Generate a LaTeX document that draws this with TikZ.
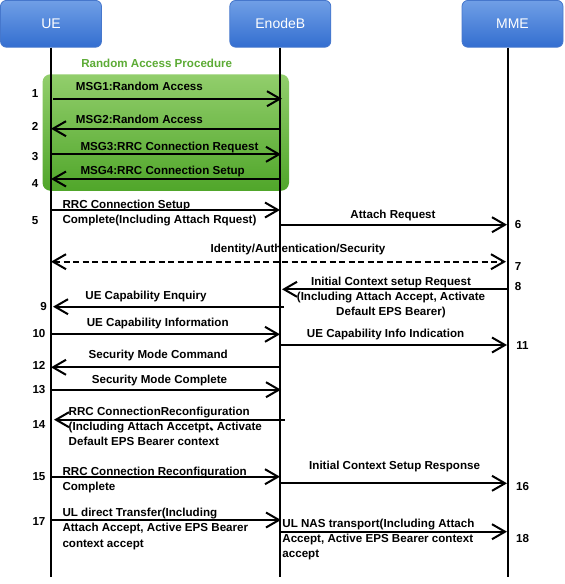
\documentclass[tikz,border=0pt]{standalone}
\usepackage{fontspec}
\setmainfont{Liberation Sans}
\newfontfamily\cjk{Noto Sans CJK SC}
\usetikzlibrary{arrows.meta}
\definecolor{hdrtop}{HTML}{709FE6}
\definecolor{hdrbot}{HTML}{336ED0}
\definecolor{hdrline}{HTML}{4677CC}
\definecolor{grtop}{HTML}{92CE6C}
\definecolor{grbot}{HTML}{50A62A}
\definecolor{grtitle}{HTML}{5CAB35}
\begin{document}
\begin{tikzpicture}[x=1pt,y=-1pt,
  hdr/.style={draw=hdrline, line width=0.8pt, rounded corners=6pt,
    top color=hdrtop, bottom color=hdrbot, minimum width=101pt,
    minimum height=46.8pt, inner sep=0pt, text=white,
    font=\fontsize{14}{16}\selectfont},
  grbox/.style={rounded corners=8pt, top color=grtop, bottom color=grbot,
    minimum width=246.5pt, minimum height=116.5pt, inner sep=0pt},
  life/.style={line width=2pt},
  msg/.style={line width=2pt, -{Straight Barb[length=13pt,width=15pt]}},
  dmsg/.style={line width=2pt, dash pattern=on 6pt off 3.5pt,
    {Straight Barb[length=13pt,width=15pt]}-{Straight Barb[length=13pt,width=15pt]}},
  lbl/.style={font=\fontsize{11.6}{15.3}\selectfont\bfseries, inner sep=0pt,
    text height=8.3pt, text depth=0pt},
  mlbl/.style={font=\fontsize{11.6}{15.3}\selectfont\bfseries, inner sep=0pt,
    align=left, anchor=north west},
  clbl/.style={font=\fontsize{11.6}{15.3}\selectfont\bfseries, inner sep=0pt,
    align=center, anchor=north},
]
\useasboundingbox (0,0) rectangle (565,584);

% green random access region
\node[grbox] (ra) at (165.75,132.5) {};
\node[lbl, text=grtitle] (ratitle) at (156.7,63.3) {Random Access Procedure};

% headers
\node[hdr] (ue)  at (51,23.8) {UE};
\node[hdr] (enb) at (280.3,23.8) {EnodeB};
\node[hdr] (mme) at (512.5,23.8) {MME};

% lifelines
\coordinate (uB) at (51,577);
\coordinate (eB) at (280,577);
\coordinate (mB) at (508,577);
\draw[life] (ue.south -| uB) -- (uB);
\draw[life] (enb.south -| eB) -- (eB);
\draw[life] (mme.south -| mB) -- (mB);

% messages
\coordinate (m1a) at (53,98.7);   \coordinate (m1b) at (282,98.7);
\coordinate (m2a) at (280,128.7); \coordinate (m2b) at (51,128.7);
\coordinate (m3a) at (52,154.3);  \coordinate (m3b) at (281,154.3);
\coordinate (m4a) at (280,179);   \coordinate (m4b) at (51,179);
\coordinate (m5a) at (52,210);    \coordinate (m5b) at (280,210);
\coordinate (m6a) at (280,224.7); \coordinate (m6b) at (507,224.7);
\coordinate (m7a) at (51,261.7);  \coordinate (m7b) at (506,261.7);
\coordinate (m8a) at (508,289.3); \coordinate (m8b) at (282,289.3);
\coordinate (m9a) at (284,306.7); \coordinate (m9b) at (53,306.7);
\coordinate (m10a) at (52,334.3); \coordinate (m10b) at (280,334.3);
\coordinate (m11a) at (280,345);  \coordinate (m11b) at (507,345);
\coordinate (m12a) at (280,367.3);\coordinate (m12b) at (51,367.3);
\coordinate (m13a) at (51,389.7); \coordinate (m13b) at (281,389.7);
\coordinate (m14a) at (285,419.7);\coordinate (m14b) at (54,419.7);
\coordinate (m15a) at (51,476.7); \coordinate (m15b) at (280,476.7);
\coordinate (m16a) at (280,483.3);\coordinate (m16b) at (507,483.3);
\coordinate (m17a) at (51,520);   \coordinate (m17b) at (281,520);
\coordinate (m18a) at (280,531.7);\coordinate (m18b) at (507,531.7);

\draw[msg] (m1a) -- (m1b);
\draw[msg] (m2a) -- (m2b);
\draw[msg] (m3a) -- (m3b);
\draw[msg] (m4a) -- (m4b);
\draw[msg] (m5a) -- (m5b);
\draw[msg] (m6a) -- (m6b);
\draw[dmsg] (m7a) -- (m7b);
\draw[msg] (m8a) -- (m8b);
\draw[msg] (m9a) -- (m9b);
\draw[msg] (m10a) -- (m10b);
\draw[msg] (m11a) -- (m11b);
\draw[msg] (m12a) -- (m12b);
\draw[msg] (m13a) -- (m13b);
\draw[msg] (m14a) -- (m14b);
\draw[msg] (m15a) -- (m15b);
\draw[msg] (m16a) -- (m16b);
\draw[msg] (m17a) -- (m17b);
\draw[msg] (m18a) -- (m18b);

% message labels
\node[lbl, anchor=west] (t1) at (75.7,86.7) {MSG1:Random Access};
\node[lbl, anchor=west] (t2) at (75.7,119) {MSG2:Random Access};
\node[lbl, anchor=west] (t3) at (80.3,146.7) {MSG3:RRC Connection Request};
\node[lbl, anchor=west] (t4) at (80.3,170.7) {MSG4:RRC Connection Setup};
\node[mlbl] (t5) at (62.3,199.7) {RRC Connection Setup\\Complete(Including Attach Rquest)};
\node[lbl] (t6) at (393,214) {Attach Request};
\node[lbl] (t7) at (298,248) {Identity/Authentication/Security};
\node[clbl] (t8) at (391,276.7) {Initial Context setup Request\\(Including Attach Accept, Activate\\Default EPS Bearer)};
\node[lbl] (t9) at (146,295.5) {UE Capability Enquiry};
\node[lbl] (t10) at (157.7,322.7) {UE Capability Information};
\node[lbl] (t11) at (385.6,333.3) {UE Capability Info Indication};
\node[lbl] (t12) at (158.2,354) {Security Mode Command};
\node[lbl] (t13) at (159.5,379) {Security Mode Complete};
\node[mlbl] (t14) at (68.5,406.4) {RRC ConnectionReconfiguration\\(Including Attach Accetpt{\cjk 、}\kern-4pt Activate\\Default EPS Bearer context};
\node[mlbl] (t15) at (62.3,466.7) {RRC Connection Reconfiguration\\Complete};
\node[lbl] (t16) at (394.6,465.5) {Initial Context Setup Response};
\node[mlbl] (t17) at (62.3,508) {UL direct Transfer(Including\\Attach Accept, Active EPS Bearer\\context accept};
\node[mlbl] (t18) at (282.2,518.4) {UL NAS transport(Including Attach\\Accept, Active EPS Bearer context\\accept};

% step numbers
\node[lbl] (n1) at (35,93.3) {1};
\node[lbl] (n2) at (35,126.7) {2};
\node[lbl] (n3) at (35,156.7) {3};
\node[lbl] (n4) at (35,183.3) {4};
\node[lbl] (n5) at (35,220) {5};
\node[lbl] (n6) at (518,224.7) {6};
\node[lbl] (n7) at (518,266.7) {7};
\node[lbl] (n8) at (518,286.7) {8};
\node[lbl] (n9) at (43.5,306.7) {9};
\node[lbl] (n10) at (39,333.3) {10};
\node[lbl] (n11) at (522.5,345) {11};
\node[lbl] (n12) at (39,365) {12};
\node[lbl] (n13) at (39,389.7) {13};
\node[lbl] (n14) at (39,424.3) {14};
\node[lbl] (n15) at (39,476.2) {15};
\node[lbl] (n16) at (522.5,486.7) {16};
\node[lbl] (n17) at (39,521.7) {17};
\node[lbl] (n18) at (522.5,538.3) {18};
\end{tikzpicture}
\end{document}
